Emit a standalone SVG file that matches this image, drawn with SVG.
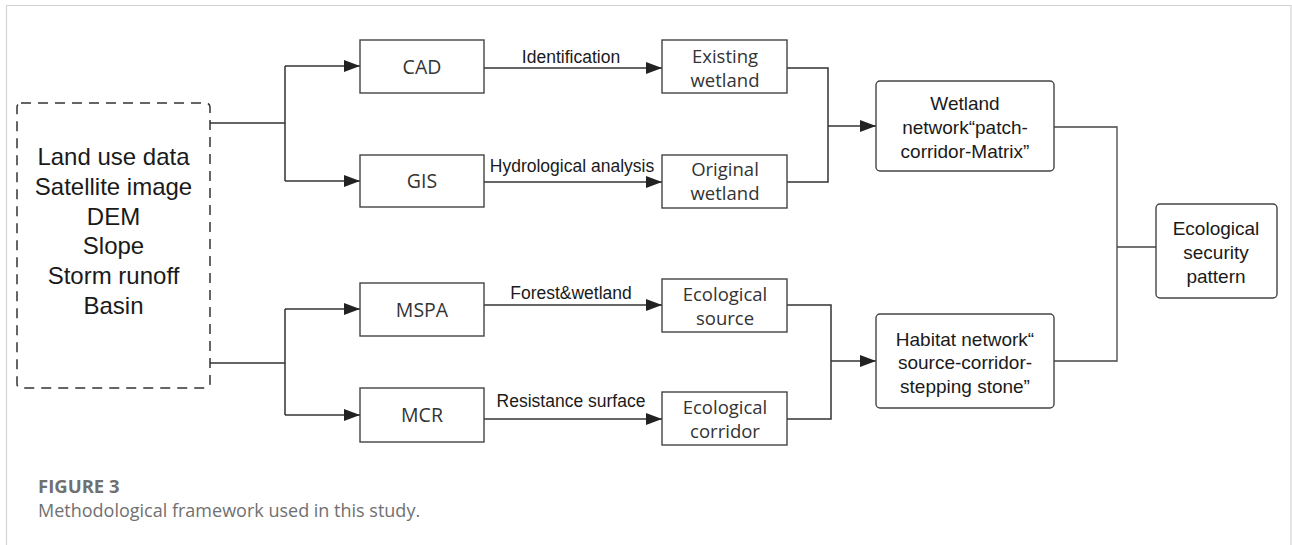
<svg xmlns="http://www.w3.org/2000/svg" width="1292" height="545" viewBox="0 0 1292 545">
<defs>
<marker id="arr" markerUnits="userSpaceOnUse" markerWidth="16" markerHeight="12" refX="16" refY="6" orient="auto">
<path d="M0,0 L16,6 L0,12 Z" fill="#222"/>
</marker>
<style>
.box{fill:#fff;stroke:#444;stroke-width:1.4}
.dash{fill:none;stroke:#333;stroke-width:1.5;stroke-dasharray:10 7}
.ln{fill:none;stroke:#333;stroke-width:1.5}
.ln2{fill:none;stroke:#444;stroke-width:1.3}
.a{marker-end:url(#arr)}
.lbl{font-family:"Open Sans","Noto Sans",sans-serif;font-size:19.5px;fill:#333;text-anchor:middle}
.two{font-size:18.5px}
.arial{font-family:"Liberation Sans",Arial,sans-serif;fill:#1a1a1a;text-anchor:middle}
.big{font-size:24px}
.net{font-size:19px}
.edge{font-size:17.5px}
.cap{font-family:"Open Sans","Noto Sans",sans-serif;fill:#707070}
</style>
</defs>
<rect x="0" y="0" width="1292" height="545" fill="#fff"/>
<path d="M6.5,545 V5.5 H1291 V545" fill="none" stroke="#d2d2d2" stroke-width="1.2"/>

<g id="connectors">
<path class="ln" d="M210,123 H285 M285,66 V181"/>
<path class="ln a" d="M285,66 H360"/>
<path class="ln a" d="M285,181 H360"/>
<path class="ln" d="M210,363 H285 M285,309 V415"/>
<path class="ln a" d="M285,309 H360"/>
<path class="ln a" d="M285,415 H360"/>
<path class="ln a" d="M484,68 H662"/>
<path class="ln a" d="M484,182 H662"/>
<path class="ln a" d="M484,305 H662"/>
<path class="ln a" d="M484,419 H662"/>
<path class="ln" d="M787,68 H828 V182 H787"/>
<path class="ln a" d="M828,126 H876"/>
<path class="ln" d="M787,305 H831 V419 H787"/>
<path class="ln a" d="M831,361 H876"/>
<path class="ln2" d="M1054,127 H1117 V361 H1054 M1117,247 H1156"/>
<text class="arial edge" x="571" y="63">Identification</text>
<text class="arial edge" x="572" y="172">Hydrological analysis</text>
<text class="arial edge" x="571" y="299">Forest&amp;wetland</text>
<text class="arial edge" x="571" y="407">Resistance surface</text>
</g>

<g id="data">
<rect class="dash" x="17" y="103" width="193" height="285" rx="4"/>
<text class="arial big" x="113.5" y="165">Land use data</text>
<text class="arial big" x="113.5" y="195">Satellite image</text>
<text class="arial big" x="113.5" y="224.5">DEM</text>
<text class="arial big" x="113.5" y="254">Slope</text>
<text class="arial big" x="113.5" y="284">Storm runoff</text>
<text class="arial big" x="113.5" y="314">Basin</text>
</g>

<g id="cad"><rect class="box" x="360" y="40" width="124" height="53"/><text class="lbl" x="422" y="74">CAD</text></g>
<g id="gis"><rect class="box" x="360" y="155" width="124" height="52"/><text class="lbl" x="422" y="188">GIS</text></g>
<g id="mspa"><rect class="box" x="360" y="283" width="124" height="53"/><text class="lbl" x="422" y="317">MSPA</text></g>
<g id="mcr"><rect class="box" x="360" y="388" width="124" height="54"/><text class="lbl" x="422" y="422">MCR</text></g>

<g id="existing"><rect class="box" x="662" y="40" width="125" height="53"/><text class="lbl two" x="725" y="63">Existing</text><text class="lbl two" x="725" y="87">wetland</text></g>
<g id="original"><rect class="box" x="662" y="155" width="125" height="53"/><text class="lbl two" x="725" y="176">Original</text><text class="lbl two" x="725" y="200">wetland</text></g>
<g id="source"><rect class="box" x="662" y="279" width="125" height="53"/><text class="lbl two" x="725" y="301">Ecological</text><text class="lbl two" x="725" y="325">source</text></g>
<g id="corridor"><rect class="box" x="662" y="392" width="125" height="53"/><text class="lbl two" x="725" y="414">Ecological</text><text class="lbl two" x="725" y="438">corridor</text></g>

<g id="wetland-network"><rect class="box" x="876" y="81" width="178" height="90" rx="4"/>
<text class="arial net" x="965" y="110">Wetland</text>
<text class="arial net" x="965" y="134">network“patch-</text>
<text class="arial net" x="965" y="158">corridor-Matrix”</text></g>

<g id="habitat-network"><rect class="box" x="876" y="314" width="178" height="94" rx="4"/>
<text class="arial net" x="965" y="346">Habitat network“</text>
<text class="arial net" x="965" y="369">source-corridor-</text>
<text class="arial net" x="965" y="393">stepping stone”</text></g>

<g id="security"><rect class="box" x="1156" y="204" width="121" height="94" rx="4"/>
<text class="arial net" x="1216" y="235">Ecological</text>
<text class="arial net" x="1216" y="259">security</text>
<text class="arial net" x="1216" y="283">pattern</text></g>

<text class="cap" x="38" y="493" font-size="18.5" font-weight="bold">FIGURE 3</text>
<text class="cap" x="38" y="517" font-size="18">Methodological framework used in this study.</text>
</svg>
